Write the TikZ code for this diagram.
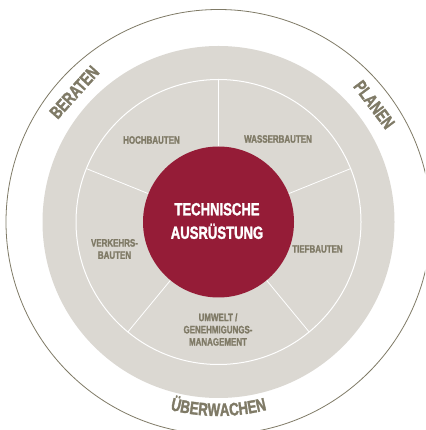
\documentclass[tikz,border=0pt]{standalone}
\usepackage{fontspec}
\usetikzlibrary{decorations.text}
\newfontfamily\condfont[FakeStretch=0.74,FakeBold=1.6]{Liberation Sans}
\definecolor{wheelred}{HTML}{951C37}
\definecolor{wheelgray}{HTML}{DBD8D2}
\definecolor{olivetext}{HTML}{7F7A66}
\newcommand{\smallcond}{\condfont\bfseries\fontsize{10.75}{12.2}\selectfont}
\newcommand{\bigcond}{\condfont\bfseries\fontsize{17.7}{20}\selectfont}
\newcommand{\outercond}{\condfont\bfseries\fontsize{18}{20}\selectfont\color{olivetext}}
\tikzset{
  sectorlabel/.style={font=\smallcond, text=olivetext, align=center, inner sep=0pt},
  centerlabel/.style={font=\bigcond, text=white, align=center, inner sep=0pt},
  ringlabel/.style={font=\outercond, text=olivetext, inner sep=0pt},
  spoke/.style={draw=white, line width=0.8pt},
  outerlabel/.style={decorate, decoration={text along path, text align=center, text={#1}}}
}
\begin{document}
\begin{tikzpicture}[x=1pt,y=1pt]
\clip (0,0) rectangle (425,430);
\fill[white] (0,0) rectangle (425,430);
\coordinate (C) at (218.5,208);
% outer thin circle
\draw[olivetext, line width=0.8pt] (C) circle[radius=212.5];
% gray disk
\fill[wheelgray] (C) circle[radius=176];
% inner white ring
\draw[white, line width=1pt] (C) circle[radius=142.5];
% spokes
\foreach \a/\n in {90/sa,22/sb,158/sc,230.5/sd,309.5/se}{
  \coordinate (\n i) at ([shift={(\a:70)}]C);
  \coordinate (\n o) at ([shift={(\a:142.5)}]C);
  \draw[spoke] (\n i) -- (\n o);
}
% red centre
\fill[wheelred] (C) circle[radius=75.5];
\node[centerlabel] (tech) at (217,209) {TECHNISCHE\\[3.5pt]AUSRÜSTUNG};
% sector labels
\node[sectorlabel] (hoch) at (151.5,290) {HOCHBAUTEN};
\node[sectorlabel] (wasser) at (278,291) {WASSERBAUTEN};
\node[sectorlabel] (tief) at (317.5,181) {TIEFBAUTEN};
\node[sectorlabel] (verkehr) at (114.5,181) {VERKEHRS-\\BAUTEN};
\node[sectorlabel] (umwelt) at (218,100.5) {UMWELT /\\GENEHMIGUNGS-\\MANAGEMENT};
% outer labels
\node[ringlabel, rotate=48] (beraten) at ([shift={(138:194)}]C) {BERATEN};
\node[ringlabel, rotate=-53] (planen) at ([shift={(37:195)}]C) {PLANEN};
\path[outerlabel={|\outercond|ÜBERWACHEN}] ([shift={(240:194)}]C) arc[start angle=240, end angle=300, radius=194];
\end{tikzpicture}
\end{document}
